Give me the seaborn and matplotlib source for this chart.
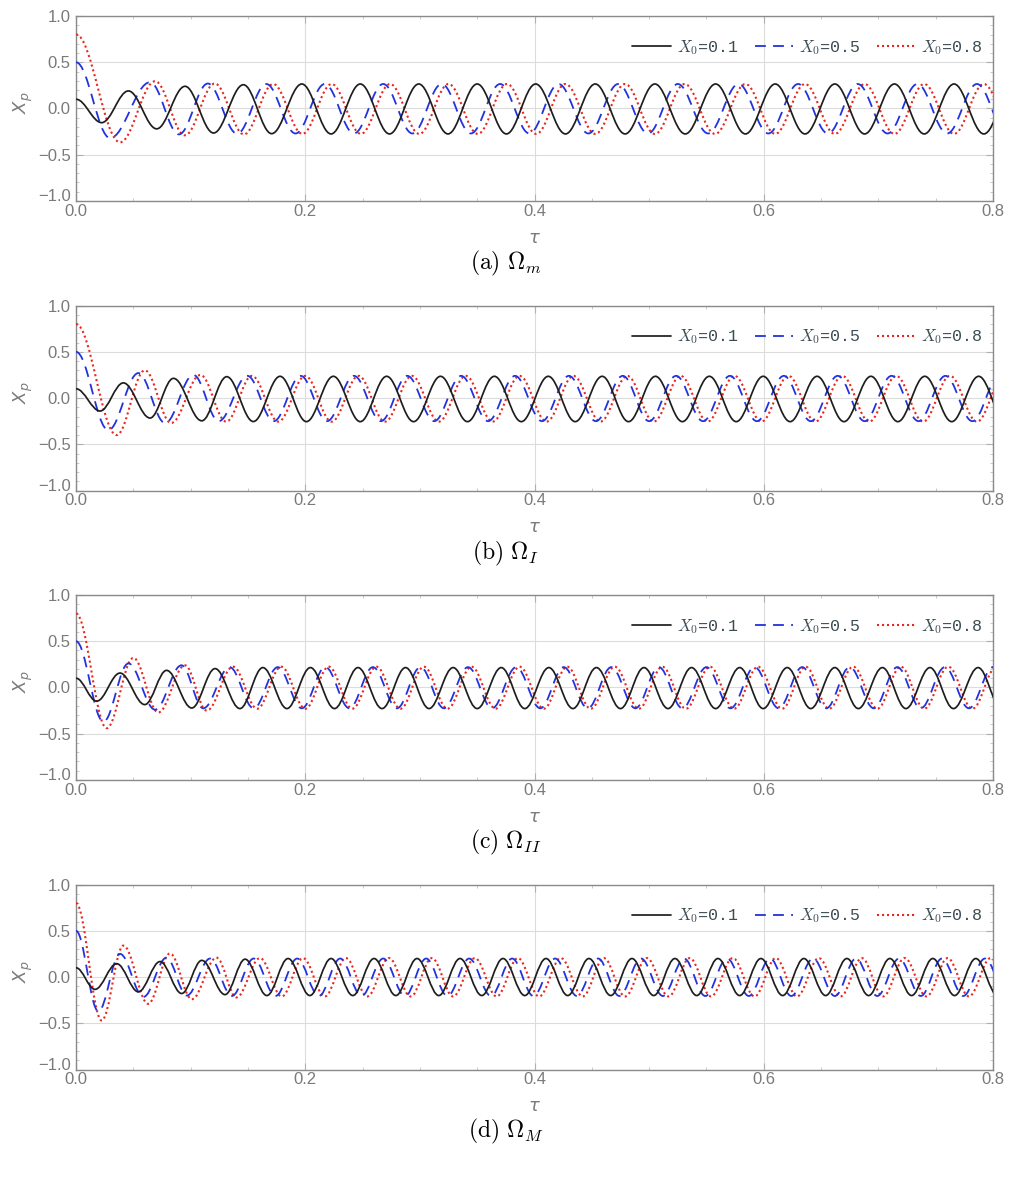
import matplotlib
matplotlib.use("Agg")
import matplotlib.pyplot as plt
import seaborn as sns
from matplotlib.path import Path
from matplotlib.patches import PathPatch
from matplotlib.lines import Line2D
from matplotlib.ticker import MultipleLocator
from matplotlib.transforms import ScaledTranslation

# ---------------- data ----------------
# Each series is given by its successive extrema (time tau, value X_p),
# starting at tau = 0 (released from rest).
tau_ticks = [0.0, 0.2, 0.4, 0.6, 0.8]
xp_ticks = [-1.0, -0.5, 0.0, 0.5, 1.0]
series_labels = ["0.1", "0.5", "0.8"]
panel_captions = [r"$\mathrm{(a)}\ \Omega_m$", r"$\mathrm{(b)}\ \Omega_I$",
                  r"$\mathrm{(c)}\ \Omega_{II}$", r"$\mathrm{(d)}\ \Omega_M$"]

# panel (a)
a_k_t = [0.0, 0.0224, 0.0457, 0.0704, 0.0951, 0.120, 0.146, 0.1707, 0.197, 0.2225, 0.248,
         0.2735, 0.299, 0.3245, 0.350, 0.3755, 0.401, 0.427, 0.453, 0.479, 0.505, 0.5315,
         0.558, 0.584, 0.610, 0.636, 0.662, 0.688, 0.714, 0.740, 0.766, 0.792, 0.818]
a_k_x = [0.10, -0.153, 0.19, -0.22, 0.24, -0.265, 0.257, -0.272, 0.265,
         -0.275, 0.265, -0.275, 0.265, -0.275, 0.265, -0.275, 0.265, -0.275, 0.265, -0.275, 0.265,
         -0.275, 0.265, -0.275, 0.265, -0.275, 0.265, -0.275, 0.265, -0.275, 0.265, -0.275, 0.265]
a_b_t = [0.0, 0.0297, 0.0646, 0.0898, 0.115, 0.1405, 0.166, 0.1915, 0.217, 0.2425, 0.268,
         0.2935, 0.319, 0.3445, 0.370, 0.3955, 0.421, 0.447, 0.473, 0.499, 0.525, 0.5515,
         0.578, 0.604, 0.630, 0.656, 0.682, 0.708, 0.734, 0.760, 0.786, 0.812, 0.838]
a_b_x = [0.50, -0.32, 0.284, -0.28, 0.27, -0.272, 0.265,
         -0.27, 0.265, -0.27, 0.265, -0.27, 0.265, -0.27, 0.265, -0.27, 0.265, -0.27, 0.265, -0.27, 0.265,
         -0.27, 0.265, -0.27, 0.265, -0.27, 0.265, -0.27, 0.265, -0.27, 0.265, -0.27, 0.265]
a_r_t = [0.0, 0.0384, 0.069, 0.095, 0.121, 0.1465, 0.172, 0.1975, 0.223, 0.2485, 0.274,
         0.2995, 0.325, 0.3505, 0.376, 0.4015, 0.427, 0.453, 0.479, 0.505, 0.531, 0.5575,
         0.584, 0.610, 0.636, 0.662, 0.688, 0.714, 0.740, 0.766, 0.792, 0.818, 0.844]
a_r_x = [0.80, -0.366, 0.295, -0.29, 0.27, -0.28, 0.265,
         -0.275, 0.265, -0.275, 0.265, -0.275, 0.265, -0.275, 0.265, -0.275, 0.265, -0.275, 0.265,
         -0.275, 0.265, -0.275, 0.265, -0.275, 0.265, -0.275, 0.265, -0.275, 0.265, -0.275, 0.265,
         -0.275, 0.265]

# panel (b)
b_k_t = [0.0, 0.021, 0.0413, 0.0646, 0.085, 0.1097, 0.1315, 0.1547, 0.178, 0.201, 0.2245,
         0.248, 0.271, 0.2945, 0.318, 0.3415, 0.365, 0.3885, 0.412, 0.4355, 0.459, 0.482,
         0.5055, 0.529, 0.5525, 0.576, 0.5995, 0.623, 0.6465, 0.670, 0.6935, 0.717, 0.7405,
         0.764, 0.7875, 0.811]
b_k_x = [0.10, -0.14, 0.164, -0.216, 0.213, -0.246, 0.231, -0.254,
         0.235, -0.255, 0.235, -0.255, 0.235, -0.255, 0.235, -0.255, 0.235, -0.255, 0.235, -0.255,
         0.235, -0.255, 0.235, -0.255, 0.235, -0.255, 0.235, -0.255, 0.235, -0.255, 0.235, -0.255,
         0.235, -0.255, 0.235, -0.255]
b_b_t = [0.0, 0.0282, 0.0544, 0.0777, 0.1024, 0.1245, 0.1495, 0.1725, 0.196, 0.219, 0.2425,
         0.266, 0.289, 0.3125, 0.336, 0.3595, 0.383, 0.4065, 0.430, 0.4535, 0.477, 0.500,
         0.5235, 0.547, 0.5705, 0.594, 0.6175, 0.641, 0.6645, 0.688, 0.7115, 0.735, 0.7585,
         0.782, 0.8055]
b_b_x = [0.50, -0.347, 0.27, -0.27, 0.25, -0.25, 0.24,
         -0.25, 0.24, -0.25, 0.24, -0.25, 0.24, -0.25, 0.24, -0.25, 0.24, -0.25, 0.24, -0.25, 0.24,
         -0.25, 0.24, -0.25, 0.24, -0.25, 0.24, -0.25, 0.24, -0.25, 0.24, -0.25, 0.24, -0.25, 0.24]
b_r_t = [0.0, 0.0355, 0.060, 0.083, 0.1085, 0.131, 0.1535, 0.1765, 0.200, 0.223, 0.2465,
         0.2695, 0.293, 0.3165, 0.340, 0.3635, 0.387, 0.4105, 0.434, 0.4575, 0.481, 0.504,
         0.5275, 0.551, 0.5745, 0.598, 0.6215, 0.645, 0.6685, 0.692, 0.7155, 0.739, 0.7625,
         0.786, 0.8095]
b_r_x = [0.80, -0.40, 0.30, -0.27, 0.25, -0.255, 0.24,
         -0.255, 0.24, -0.255, 0.24, -0.255, 0.24, -0.255, 0.24, -0.255, 0.24, -0.255, 0.24,
         -0.255, 0.24, -0.255, 0.24, -0.255, 0.24, -0.255, 0.24, -0.255, 0.24, -0.255, 0.24,
         -0.255, 0.24, -0.255, 0.24]

# panel (c)
c_k_t = [0.0, 0.018, 0.0384, 0.060, 0.079, 0.101, 0.1213, 0.143, 0.163, 0.184, 0.2045,
         0.2255, 0.246, 0.267, 0.2875, 0.308, 0.329, 0.350, 0.371, 0.3915, 0.4125, 0.4335,
         0.454, 0.475, 0.4955, 0.5165, 0.537, 0.558, 0.579, 0.5995, 0.6205, 0.641, 0.662,
         0.6825, 0.7035, 0.724, 0.745, 0.7655, 0.787, 0.8075]
c_k_x = [0.10, -0.148, 0.156, -0.185, 0.185, -0.222, 0.204, -0.228,
         0.215, -0.228, 0.215, -0.228, 0.215, -0.228, 0.215, -0.228, 0.215, -0.228, 0.215, -0.228,
         0.215, -0.228, 0.215, -0.228, 0.215, -0.228, 0.215, -0.228, 0.215, -0.228, 0.215, -0.228,
         0.215, -0.228, 0.215, -0.228, 0.215, -0.228, 0.215, -0.228]
c_b_t = [0.0, 0.0239, 0.0457, 0.069, 0.092, 0.111, 0.134, 0.155, 0.176, 0.197, 0.2175,
         0.2385, 0.259, 0.280, 0.3005, 0.321, 0.342, 0.363, 0.384, 0.405, 0.4255, 0.4465,
         0.467, 0.488, 0.5085, 0.529, 0.550, 0.571, 0.592, 0.613, 0.6335, 0.6545, 0.675,
         0.696, 0.7165, 0.737, 0.758, 0.779, 0.800, 0.821]
c_b_x = [0.50, -0.37, 0.26, -0.24, 0.24, -0.225, 0.22,
         -0.225, 0.22, -0.225, 0.22, -0.225, 0.22, -0.225, 0.22, -0.225, 0.22, -0.225, 0.22,
         -0.225, 0.22, -0.225, 0.22, -0.225, 0.22, -0.225, 0.22, -0.225, 0.22, -0.225, 0.22,
         -0.225, 0.22, -0.225, 0.22, -0.225, 0.22, -0.225, 0.22, -0.225]
c_r_t = [0.0, 0.0268, 0.050, 0.0718, 0.095, 0.114, 0.137, 0.158, 0.179, 0.200, 0.2205,
         0.241, 0.262, 0.283, 0.3035, 0.324, 0.345, 0.366, 0.387, 0.408, 0.4285, 0.449,
         0.470, 0.491, 0.5115, 0.532, 0.553, 0.574, 0.595, 0.616, 0.6365, 0.657, 0.678,
         0.699, 0.7195, 0.740, 0.761, 0.782, 0.803]
c_r_x = [0.80, -0.44, 0.32, -0.27, 0.24, -0.25, 0.225,
         -0.23, 0.225, -0.23, 0.225, -0.23, 0.225, -0.23, 0.225, -0.23, 0.225, -0.23, 0.225,
         -0.23, 0.225, -0.23, 0.225, -0.23, 0.225, -0.23, 0.225, -0.23, 0.225, -0.23, 0.225,
         -0.23, 0.225, -0.23, 0.225, -0.23, 0.225, -0.23, 0.225]

# panel (d)
d_k_t = [0.0, 0.0166, 0.0355, 0.0544, 0.0733, 0.0922, 0.1097, 0.130, 0.1475, 0.1665, 0.185,
         0.204, 0.2225, 0.2415, 0.260, 0.279, 0.2975, 0.3165, 0.335, 0.354, 0.3725, 0.3915,
         0.410, 0.429, 0.4475, 0.4665, 0.485, 0.504, 0.5225, 0.5415, 0.560, 0.579, 0.5975,
         0.6165, 0.635, 0.654, 0.6725, 0.6915, 0.710, 0.729, 0.7475, 0.7665, 0.785, 0.804]
d_k_x = [0.10, -0.133, 0.144, -0.16, 0.167, -0.178, 0.18, -0.19, 0.193,
         -0.20, 0.20, -0.20, 0.20, -0.20, 0.20, -0.20, 0.20, -0.20, 0.20, -0.20, 0.20,
         -0.20, 0.20, -0.20, 0.20, -0.20, 0.20, -0.20, 0.20, -0.20, 0.20, -0.20, 0.20,
         -0.20, 0.20, -0.20, 0.20, -0.20, 0.20, -0.20, 0.20, -0.20, 0.20, -0.20]
d_b_t = [0.0, 0.0195, 0.0384, 0.0588, 0.079, 0.0966, 0.117, 0.136, 0.155, 0.174, 0.193,
         0.2118, 0.2305, 0.249, 0.268, 0.287, 0.3055, 0.324, 0.343, 0.362, 0.3805, 0.399,
         0.418, 0.437, 0.4555, 0.474, 0.493, 0.512, 0.5305, 0.549, 0.568, 0.587, 0.6055,
         0.624, 0.643, 0.662, 0.6805, 0.699, 0.718, 0.737, 0.7555, 0.774, 0.793, 0.812]
d_b_x = [0.50, -0.37, 0.25, -0.215, 0.21, -0.20, 0.20,
         -0.205, 0.20, -0.205, 0.20, -0.205, 0.20, -0.205, 0.20, -0.205, 0.20, -0.205, 0.20,
         -0.205, 0.20, -0.205, 0.20, -0.205, 0.20, -0.205, 0.20, -0.205, 0.20, -0.205, 0.20,
         -0.205, 0.20, -0.205, 0.20, -0.205, 0.20, -0.205, 0.20, -0.205, 0.20, -0.205, 0.20,
         -0.205]
d_r_t = [0.0, 0.0224, 0.0413, 0.063, 0.082, 0.101, 0.1225, 0.140, 0.1605, 0.1795, 0.198,
         0.217, 0.2355, 0.254, 0.273, 0.292, 0.3105, 0.329, 0.348, 0.367, 0.3855, 0.404,
         0.423, 0.442, 0.4605, 0.479, 0.498, 0.517, 0.5355, 0.554, 0.573, 0.592, 0.6105,
         0.629, 0.648, 0.667, 0.6855, 0.704, 0.723, 0.742, 0.7605, 0.779, 0.798, 0.817]
d_r_x = [0.80, -0.47, 0.34, -0.29, 0.255, -0.24, 0.21, -0.22,
         0.205, -0.21, 0.205, -0.21, 0.205, -0.21, 0.205, -0.21, 0.205, -0.21, 0.205, -0.21,
         0.205, -0.21, 0.205, -0.21, 0.205, -0.21, 0.205, -0.21, 0.205, -0.21, 0.205, -0.21,
         0.205, -0.21, 0.205, -0.21, 0.205, -0.21, 0.205, -0.21, 0.205, -0.21, 0.205, -0.21]

panels = [
    [(a_k_t, a_k_x), (a_b_t, a_b_x), (a_r_t, a_r_x)],
    [(b_k_t, b_k_x), (b_b_t, b_b_x), (b_r_t, b_r_x)],
    [(c_k_t, c_k_x), (c_b_t, c_b_x), (c_r_t, c_r_x)],
    [(d_k_t, d_k_x), (d_b_t, d_b_x), (d_r_t, d_r_x)],
]

# ---------------- styling ----------------
sns.set_theme(style="white")
plt.rcParams["font.family"] = ["Liberation Sans", "DejaVu Sans"]
plt.rcParams["mathtext.fontset"] = "cm"

colors = ["#1e1e1e", "#2233dd", "#e8281e"]
widths = [1.25, 1.3, 1.5]
styles = ["-", (0, (6.0, 4.0)), (0, (1.0, 1.4))]
grey = "#8a8a8a"


def extrema_path(t, x, k=0.364):
    """Smooth path through successive extrema (flat tangents at each extremum)."""
    n = min(len(t), len(x))
    verts = [(t[0], x[0])]
    codes = [Path.MOVETO]
    for i in range(n - 1):
        dt = t[i + 1] - t[i]
        verts += [(t[i] + k * dt, x[i]), (t[i + 1] - k * dt, x[i + 1]), (t[i + 1], x[i + 1])]
        codes += [Path.CURVE4] * 3
    return Path(verts, codes)


fig = plt.figure(figsize=(10.11, 11.78), dpi=100)
ax_left, ax_width, ax_height = 0.0752, 0.907, 0.157
ax_bottoms = [0.8294, 0.5836, 0.3379, 0.0921]
caption_y = [0.7767, 0.5306, 0.2852, 0.0399]

for p, series in enumerate(panels):
    ax = fig.add_axes([ax_left, ax_bottoms[p], ax_width, ax_height])
    ax.set_facecolor("white")
    for s, (t, x) in enumerate(series):
        patch = PathPatch(extrema_path(t, x), fill=False, edgecolor=colors[s],
                          linewidth=widths[s], linestyle=styles[s], zorder=3 + (2 - s) * 0.1)
        ax.add_patch(patch)
    ax.set_xlim(tau_ticks[0], tau_ticks[-1])
    ax.set_ylim(xp_ticks[0], xp_ticks[-1])

    ax.set_xticks(tau_ticks, labels=[f"{v:.1f}" for v in tau_ticks])
    ax.set_yticks(xp_ticks, labels=[f"{v:.1f}".replace("-", "\u2212") for v in xp_ticks])
    ax.xaxis.set_minor_locator(MultipleLocator(0.05))
    ax.yaxis.set_minor_locator(MultipleLocator(0.1))
    ax.tick_params(axis="both", which="major", direction="in", length=5, width=0.8,
                   color="#b0b0b0", labelcolor="#7a7a7a", labelsize=12,
                   top=True, right=True, bottom=True, left=True)
    ax.tick_params(axis="both", which="minor", direction="in", length=2.5, width=0.6,
                   color="#c0c0c0", top=True, right=True, bottom=True, left=True)
    ax.tick_params(axis="x", which="major", pad=2)
    ax.tick_params(axis="y", which="major", pad=4)
    # lift the lowest y label slightly so it only just meets the "0.0" below it
    ylabs = ax.get_yticklabels()
    ylabs[0].set_transform(ylabs[0].get_transform() +
                           ScaledTranslation(0, 4 / 72, fig.dpi_scale_trans))

    ax.grid(True, which="major", color="#dcdcdc", linewidth=0.8)
    ax.set_axisbelow(True)
    for sp in ax.spines.values():
        sp.set_color(grey)
        sp.set_linewidth(1.0)

    ax.set_xlabel(r"$\tau$", fontsize=13, color="#7a7a7a", math_fontfamily="dejavusans")
    ax.xaxis.set_label_coords(0.5, -0.155)
    ax.set_ylabel(r"$X_p$", fontsize=13, color="#7a7a7a", math_fontfamily="dejavusans")
    ax.yaxis.set_label_coords(-0.045, 0.53)

    handles = [Line2D([], [], color=colors[s], linewidth=widths[s], linestyle=styles[s])
               for s in range(3)]
    labels = [rf"$X_0$={v}" for v in series_labels]
    leg = ax.legend(handles, labels, loc="upper right", bbox_to_anchor=(1.0, 0.935),
                    ncol=3, frameon=False, handlelength=2.3, handletextpad=0.35,
                    columnspacing=1.0, borderaxespad=0.2,
                    prop={"family": "Liberation Mono", "size": 12})
    for txt in leg.get_texts():
        txt.set_color("#3c4c52")

    fig.text(0.5, caption_y[p], panel_captions[p], ha="center", va="center",
             fontsize=17, color="black", math_fontfamily="cm")

fig.savefig("out.png", dpi=100, facecolor="white")
